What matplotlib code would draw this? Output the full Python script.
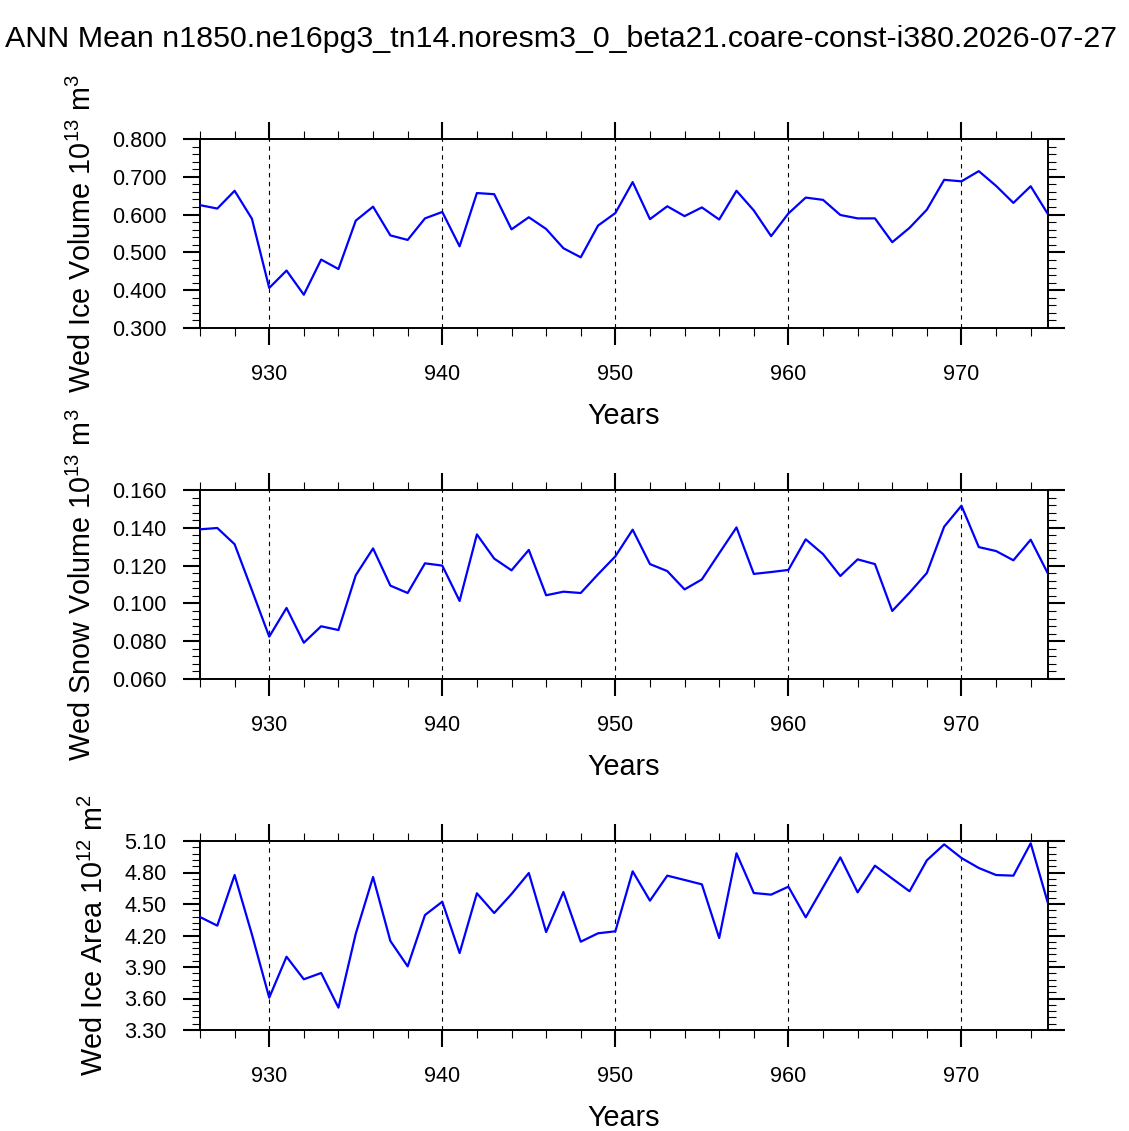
import numpy as np
import matplotlib
matplotlib.use("Agg")
import matplotlib.pyplot as plt
from matplotlib.ticker import MultipleLocator, FormatStrFormatter

plt.rcParams['font.family'] = ['Liberation Sans', 'DejaVu Sans']
plt.rcParams['mathtext.fontset'] = 'custom'
plt.rcParams['mathtext.rm'] = 'Liberation Sans'
plt.rcParams['mathtext.it'] = 'Liberation Sans'

years = np.arange(926, 976)

ice_volume = [0.625, 0.616, 0.663, 0.589, 0.406, 0.452, 0.388, 0.481, 0.456, 0.584,
              0.621, 0.545, 0.533, 0.590, 0.607, 0.516, 0.657, 0.654, 0.561, 0.593,
              0.562, 0.511, 0.487, 0.571, 0.604, 0.686, 0.588, 0.622, 0.596, 0.619,
              0.587, 0.663, 0.611, 0.543, 0.603, 0.645, 0.639, 0.599, 0.590, 0.590,
              0.527, 0.565, 0.613, 0.692, 0.688, 0.715, 0.676, 0.631, 0.675, 0.601]

snow_volume = [0.1392, 0.1399, 0.1313, 0.1070, 0.0824, 0.0976, 0.0792, 0.0879, 0.0859, 0.1149,
               0.1291, 0.1094, 0.1055, 0.1212, 0.1200, 0.1013, 0.1365, 0.1237, 0.1175, 0.1283,
               0.1043, 0.1062, 0.1055, 0.1154, 0.1249, 0.1390, 0.1208, 0.1171, 0.1074, 0.1127,
               0.1265, 0.1402, 0.1156, 0.1166, 0.1177, 0.1339, 0.1261, 0.1145, 0.1233, 0.1208,
               0.0960, 0.1057, 0.1161, 0.1406, 0.1517, 0.1298, 0.1277, 0.1228, 0.1337, 0.1157]

ice_area = [4.376, 4.294, 4.776, 4.210, 3.608, 3.998, 3.783, 3.843, 3.513, 4.217,
            4.757, 4.148, 3.906, 4.395, 4.522, 4.033, 4.602, 4.414, 4.595, 4.795,
            4.233, 4.614, 4.141, 4.221, 4.240, 4.811, 4.532, 4.770, 4.729, 4.687,
            4.176, 4.983, 4.605, 4.589, 4.665, 4.373, 4.659, 4.944, 4.611, 4.865,
            4.742, 4.621, 4.916, 5.068, 4.938, 4.843, 4.776, 4.770, 5.078, 4.506]

title = "ANN Mean n1850.ne16pg3_tn14.noresm3_0_beta21.coare-const-i380.2026-07-27"

panels = [
    (ice_volume, r"Wed Ice Volume 10$^{13}$ m$^{3}$", (0.3, 0.8), 0.1, 0.02, "%.3f"),
    (snow_volume, r"Wed Snow Volume 10$^{13}$ m$^{3}$", (0.06, 0.16), 0.02, 0.004, "%.3f"),
    (ice_area, r"Wed Ice Area 10$^{12}$ m$^{2}$", (3.3, 5.1), 0.3, 0.06, "%.2f"),
]

W, H = 1129, 1131
fig = plt.figure(figsize=(W / 100, H / 100), dpi=100)
tops = [139, 490, 841]
ph = 189

for (vals, label, ylim, major, minor, fmt), top in zip(panels, tops):
    ax = fig.add_axes([200 / W, 1 - (top + ph) / H, 848 / W, ph / H])
    ax.plot(years, vals, color='#0000ff', lw=1.6, zorder=3)
    # dashed reference lines every decade
    for yr in range(930, 975, 10):
        ax.axvline(yr, color='black', lw=0.8, ls=(0, (4, 4)), zorder=2)
    ax.set_xlim(926, 975)
    ax.set_ylim(*ylim)
    ax.xaxis.set_major_locator(MultipleLocator(10))
    ax.xaxis.set_minor_locator(MultipleLocator(2))
    ax.yaxis.set_major_locator(MultipleLocator(major))
    ax.yaxis.set_minor_locator(MultipleLocator(minor))
    ax.yaxis.set_major_formatter(FormatStrFormatter(fmt))
    ax.tick_params(which='both', direction='out', top=True, right=True,
                   labelsize=15.6)
    ax.tick_params(axis='x', pad=14)
    ax.tick_params(axis='y', pad=12)
    ax.tick_params(which='major', length=12, width=1.5)
    ax.tick_params(which='minor', length=5.5, width=0.8)
    for sp in ax.spines.values():
        sp.set_linewidth(1.4)
    ax.set_xlabel("Years", fontsize=20.7, labelpad=12)
    ax.set_ylabel(label, fontsize=20.7, labelpad=11)

fig.text(5 / W, 1 - 47 / H, title, fontsize=21.9, ha='left', va='baseline')

fig.savefig("out.png", dpi=100)
